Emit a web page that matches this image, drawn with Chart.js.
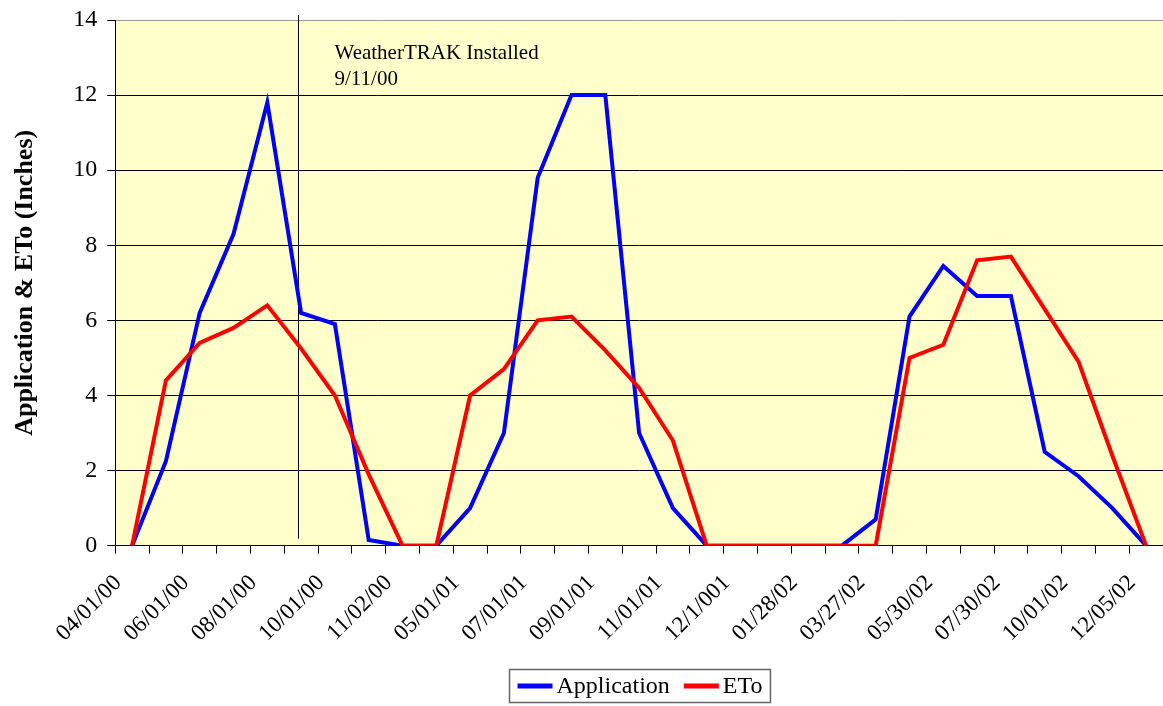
<!DOCTYPE html>
<html lang="en">
<head>
<meta charset="UTF-8" />
<title>Application &amp; ETo</title>
<script src="https://cdn.jsdelivr.net/npm/chart.js@4.4.1/dist/chart.umd.min.js"></script>
<style>
html,body{margin:0;padding:0;background:#fff}
.wrap{width:1163px;height:706px;position:relative}
</style>
</head>
<body>
<div class="wrap"><canvas id="waterChart"></canvas></div>

<script>
/* ── data ─────────────────────────────────────────────────────── */
// labels shown on every other category
const tickLabels = ['04/01/00','06/01/00','08/01/00','10/01/00','11/02/00','05/01/01','07/01/01','09/01/01',
                    '11/01/01','12/1/001','01/28/02','03/27/02','05/30/02','07/30/02','10/01/02','12/05/02'];
const application = [0,2.25,6.2,8.3,11.8,6.2,5.9,0.15,0,0,1.0,3.0,9.8,12.0,12.0,3.0,
                     1.0,0,0,0,0,0,0.7,6.1,7.45,6.65,6.65,2.5,1.85,1.0,0];
const eto         = [0,4.4,5.4,5.8,6.4,5.25,4.0,1.9,0,0,4.0,4.7,6.0,6.1,5.2,4.2,
                     2.8,0,0,0,0,0,0,5.0,5.35,7.6,7.7,6.3,4.9,2.4,0];
const categories = application.map((_,i)=>i);
const installAt = 4.92;                       // category position of the marker
const installText = ['WeatherTRAK Installed','9/11/00'];

const SERIF = '"Liberation Serif","Times New Roman",serif';

/* ── plugins ──────────────────────────────────────────────────── */
const plotBg = {
  id:'plotBg',
  beforeDraw(chart){
    const {ctx,chartArea:a}=chart;
    ctx.save();ctx.fillStyle='#FFFFCC';
    ctx.fillRect(a.left,a.top,a.right-a.left,a.bottom-a.top);
    ctx.restore();
  }
};

const installMarker = {
  id:'installMarker',
  beforeDatasetsDraw(chart){
    const {ctx,chartArea:a,scales:{x}}=chart;
    const px=Math.round(x.getPixelForValue(installAt))+0.5;
    ctx.save();
    ctx.strokeStyle='#000';ctx.lineWidth=1;
    ctx.beginPath();ctx.moveTo(px,a.top-5);ctx.lineTo(px,a.bottom-7);ctx.stroke();
    ctx.fillStyle='#000';ctx.font='21px '+SERIF;ctx.textBaseline='alphabetic';
    installText.forEach((t,i)=>ctx.fillText(t,px+36,a.top+39+i*26));
    ctx.restore();
  }
};

const boxLegend = {
  id:'boxLegend',
  afterDraw(chart){
    const {ctx,chartArea:a}=chart;
    ctx.save();
    ctx.font='24px '+SERIF;
    const items=chart.data.datasets.map(d=>({label:d.label,color:d.borderColor,w:ctx.measureText(d.label).width}));
    const sample=35,gap=4,itemGap=14,pad=8;
    let total=pad*2;
    items.forEach((it,i)=>{total+=sample+gap+it.w+(i?itemGap:0);});
    let x=Math.round((a.left+a.right)/2-total/2)+0.5;
    const top=chart.height-36.5,h=33;
    ctx.strokeStyle='#666';ctx.lineWidth=1.5;
    ctx.strokeRect(x,top,total,h);
    x+=pad;
    const midY=top+h/2;
    items.forEach((it,i)=>{
      if(i)x+=itemGap;
      ctx.fillStyle=it.color;ctx.fillRect(x,midY-2.5,sample,5);
      x+=sample+gap;
      ctx.fillStyle='#000';ctx.textBaseline='middle';ctx.fillText(it.label,x,midY+1);
      x+=it.w;
    });
    ctx.restore();
  }
};

/* ── chart ────────────────────────────────────────────────────── */
new Chart(document.getElementById('waterChart').getContext('2d'),{
  type:'line',
  data:{
    labels:categories,
    datasets:[
      {label:'Application',data:application,borderColor:'#0000FF',backgroundColor:'#0000FF',borderWidth:4,pointRadius:0,tension:0,order:1},
      {label:'ETo',data:eto,borderColor:'#FF0000',backgroundColor:'#FF0000',borderWidth:4,pointRadius:0,tension:0,order:0}
    ]
  },
  plugins:[plotBg,installMarker,boxLegend],
  options:{
    responsive:true,
    maintainAspectRatio:false,
    animation:false,
    layout:{padding:{top:20,left:10,right:0,bottom:43}},
    plugins:{legend:{display:false},tooltip:{enabled:false}},
    scales:{
      x:{
        offset:true,
        afterFit:s=>{s.paddingRight=0;},
        grid:{offset:true,drawOnChartArea:false,tickLength:8,color:'#000'},
        border:{color:'#000',width:1},
        ticks:{autoSkip:false,maxRotation:45,minRotation:45,padding:16,labelOffset:-14,color:'#000',
               font:{family:SERIF,size:23},
               callback:(v,i)=>i%2===0?tickLabels[i/2]:''}
      },
      y:{
        min:0,max:14,
        afterFit:s=>{s.paddingTop=0;},
        ticks:{stepSize:2,padding:10,color:'#000',font:{family:SERIF,size:24}},
        grid:{color:c=>c.tick&&c.tick.value===14?'#999':'#000',tickLength:8,tickColor:'#000'},
        border:{color:'#000',width:1},
        title:{display:true,text:'Application & ETo (Inches)',color:'#000',
               font:{family:SERIF,size:26,weight:'bold'},padding:{top:0,bottom:22}}
      }
    }
  }
});
</script>
</body>
</html>
